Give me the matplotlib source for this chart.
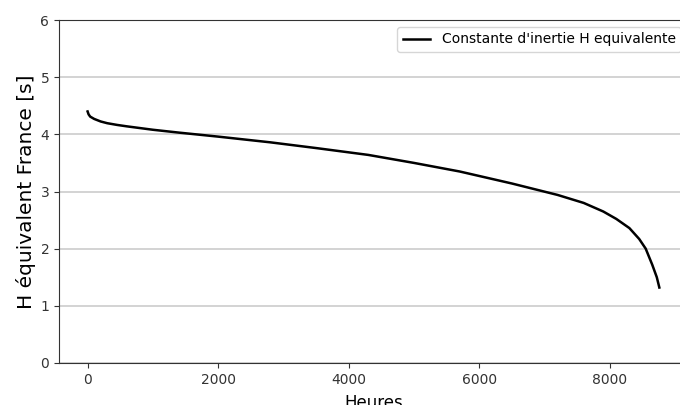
import matplotlib
matplotlib.use("Agg")
import matplotlib.pyplot as plt

# courbe monotone de H equivalent
heures = [0, 15, 40, 100, 200, 300, 450, 600, 800, 1000, 1400, 2000, 2800, 3500,
          4300, 5000, 5700, 6500, 7200, 7600, 7900, 8100, 8300, 8450, 8550, 8650,
          8720, 8759]
H_eq = [4.40, 4.35, 4.31, 4.27, 4.225, 4.195, 4.165, 4.14, 4.11, 4.08, 4.03, 3.96,
        3.86, 3.76, 3.64, 3.50, 3.35, 3.14, 2.94, 2.80, 2.65, 2.52, 2.36, 2.17,
        2.00, 1.72, 1.50, 1.32]
yticks = [0, 1, 2, 3, 4, 5, 6]
xticks = [0, 2000, 4000, 6000, 8000]

fig = plt.figure(figsize=(6.8, 4.05), dpi=100)
ax = fig.add_axes([59/680, 42/405, 629/680, 343/405])
ax.plot(heures, H_eq, color="black", lw=1.8, label="Constante d'inertie H equivalente")
ax.set_ylim(0, 6)
ax.set_xlim(-438, 9198)
ax.set_yticks(yticks)
ax.set_xticks(xticks)
ax.yaxis.grid(True, color="#cccccc", lw=1.2)
ax.set_axisbelow(True)
ax.tick_params(labelsize=10, colors="#333333")
for s in ax.spines.values():
    s.set_color("#333333")
ax.spines["right"].set_visible(False)
ax.set_ylabel("H équivalent France [s]", fontsize=14.5, labelpad=3)
ax.set_xlabel("Heures", fontsize=12, labelpad=5)
ax.legend(loc="upper right", fontsize=10)

fig.savefig("out.png", dpi=100)
